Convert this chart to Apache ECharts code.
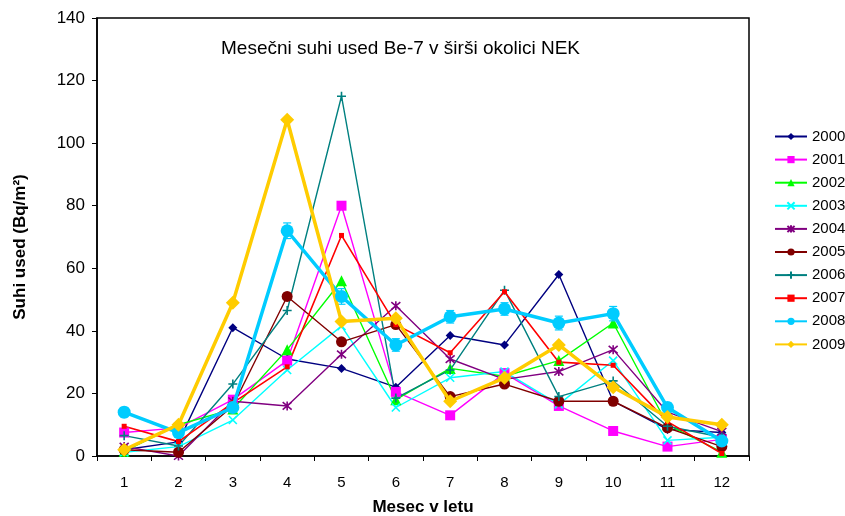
<!DOCTYPE html>
<html>
<head>
<meta charset="utf-8">
<script src="https://cdn.jsdelivr.net/npm/echarts@6/dist/echarts.min.js"></script>
<style>html,body{margin:0;padding:0;background:#fff;}#c{width:845px;height:516px;}</style>
</head>
<body>
<div id="c"></div>
<script>
const months = ['1','2','3','4','5','6','7','8','9','10','11','12'];
const yTicks = [0,20,40,60,80,100,120,140];
const s2000 = [2, 4.5, 41, 31, 28, 22, 38.5, 35.5, 58, 17.5, 8.5, 7.5];
const s2001 = [7.5, 9, 18, 30.5, 80, 20.5, 13, 26.5, 16, 8, 3, 5.3];
const s2002 = [1.5, 10, 15, 34, 56, 18, 28, 25.5, 30.5, 42.5, 10, 1.2];
const s2003 = [1.2, 3, 11.5, 27.5, 41.5, 15.5, 25, 27, 16.5, 30.5, 5, 6];
const s2004 = [3, 0, 17.5, 16, 32.5, 48, 31, 24.5, 27, 34, 14, 7.8];
const s2005 = [2, 1.2, 16, 51, 36.5, 42, 19, 23, 17.5, 17.5, 9, 3];
const s2006 = [6.5, 3.2, 23, 46.5, 115, 18.5, 27.5, 53, 19, 24, 9.5, 6];
const s2007 = [9.5, 4.6, 17, 28.5, 70.5, 42, 33, 52.5, 30, 29, 11, 0.8];
const s2008 = [14, 7.5, 15.5, 72, 51, 35.5, 44.5, 47, 42.5, 45.5, 15.5, 4.8];
const err2008 = [1.5, 1, 1.5, 2.5, 2.5, 2, 2, 2, 2.2, 2.3, 1.5, 1];
const s2009 = [2, 10, 49, 107.5, 43, 44, 17.5, 25, 35.5, 22, 12.5, 10];
const years = ['2000','2001','2002','2003','2004','2005','2006','2007','2008','2009'];

const F = 'Liberation Sans, Arial, sans-serif';
const X_PATH = 'path://M0,0L10,10M10,0L0,10';
const STAR_PATH = 'path://M0,0L10,10M10,0L0,10M5,-1L5,11';
const PLUS_PATH = 'path://M5,0L5,10M0,5L10,5';

function mk(name, data, color, symbol, size, width, stroke) {
  return {
    name: name, type: 'line', data: data, symbol: symbol, symbolSize: size,
    showSymbol: true, animation: false,
    lineStyle: { color: color, width: width },
    itemStyle: stroke ? { color: 'none', borderColor: color, borderWidth: 1.6 } : { color: color, borderWidth: 0 },
    emphasis: { disabled: true }, z: width > 2 ? 3 : 2
  };
}

const series = [
  mk(years[0], s2000, '#000080', 'diamond', 9, 1.4, false),
  mk(years[1], s2001, '#FF00FF', 'rect', 10, 1.4, false),
  mk(years[2], s2002, '#00FF00', 'triangle', 11, 1.4, false),
  mk(years[3], s2003, '#00FFFF', X_PATH, 8, 1.4, true),
  mk(years[4], s2004, '#800080', STAR_PATH, 9, 1.4, true),
  mk(years[5], s2005, '#800000', 'circle', 11, 1.4, false),
  mk(years[6], s2006, '#008080', PLUS_PATH, 9, 1.4, true),
  mk(years[7], s2007, '#FF0000', 'rect', 5, 1.6, false),
  {
    name: 'err2008', type: 'custom', z: 3, animation: false, silent: true,
    data: s2008.map((v, i) => [i, v - err2008[i], v + err2008[i]]),
    renderItem: function (params, api) {
      const lo = api.coord([api.value(0), api.value(1)]);
      const hi = api.coord([api.value(0), api.value(2)]);
      const w = 4;
      const st = { stroke: '#00CCFF', lineWidth: 1.2, fill: 'none' };
      return { type: 'group', children: [
        { type: 'line', shape: { x1: lo[0], y1: lo[1], x2: hi[0], y2: hi[1] }, style: st },
        { type: 'line', shape: { x1: lo[0] - w, y1: lo[1], x2: lo[0] + w, y2: lo[1] }, style: st },
        { type: 'line', shape: { x1: hi[0] - w, y1: hi[1], x2: hi[0] + w, y2: hi[1] }, style: st }
      ]};
    }
  },
  mk(years[8], s2008, '#00CCFF', 'circle', 13, 3.5, false),
  mk(years[9], s2009, '#FFCC00', 'diamond', 14, 3.5, false)
];

const chart = echarts.init(document.getElementById('c'), null, { renderer: 'canvas' });
chart.setOption({
  backgroundColor: '#fff',
  animation: false,
  title: {
    text: 'Mesečni suhi used Be-7 v širši okolici NEK',
    left: 216, top: 34,
    textStyle: { fontFamily: F, fontSize: 19, fontWeight: 'normal', color: '#000' }
  },
  legend: {
    orient: 'vertical', left: 774, top: 129, padding: 0,
    itemWidth: 32, itemHeight: 9, itemGap: 8.1,
    data: years,
    textStyle: { fontFamily: F, fontSize: 15, lineHeight: 15, color: '#000' }
  },
  graphic: [{
    type: 'text', x: 20, y: 247, rotation: Math.PI / 2,
    style: { text: 'Suhi used (Bq/m²)', fontFamily: F, fontSize: 17, fontWeight: 'bold', fill: '#000', align: 'center', verticalAlign: 'middle' }
  }],
  grid: { left: 97, right: 96, top: 18, bottom: 60, show: true, borderColor: '#000', borderWidth: 1.5, outerBoundsMode: 'none', containLabel: false },
  xAxis: {
    type: 'category', data: months, boundaryGap: true,
    name: 'Mesec v letu', nameLocation: 'middle', nameGap: 43,
    nameTextStyle: { fontFamily: F, fontSize: 17, fontWeight: 'bold', color: '#000' },
    axisLine: { lineStyle: { color: '#000', width: 1.5 } },
    axisTick: { show: true, inside: false, length: 5, lineStyle: { color: '#000' } },
    axisLabel: { fontFamily: F, fontSize: 15, color: '#000', margin: 19 }
  },
  yAxis: {
    type: 'value', min: yTicks[0], max: yTicks[yTicks.length - 1], interval: 20,
    axisLine: { show: true, lineStyle: { color: '#000', width: 1.5 } },
    axisTick: { show: true, inside: false, length: 5, lineStyle: { color: '#000' } },
    splitLine: { show: false },
    axisLabel: { fontFamily: F, fontSize: 17, color: '#000', margin: 12 }
  },
  series: series
});
</script>
</body>
</html>
